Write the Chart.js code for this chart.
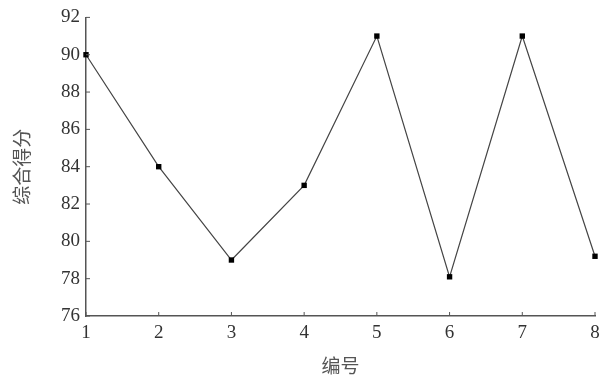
<!DOCTYPE html>
<html>
<head>
<meta charset="utf-8">
<script src="https://cdn.jsdelivr.net/npm/chart.js@4"></script>
<style>
  html, body { margin: 0; padding: 0; background: #fff; }
  #wrap { width: 599px; height: 377px; }
</style>
</head>
<body>
<div id="wrap"><canvas id="chart" width="599" height="377"></canvas></div>
<script>
// Chart data
const numbers = ['1', '2', '3', '4', '5', '6', '7', '8'];
const scores = [90, 84, 79, 83, 91, 78.1, 91, 79.2];
const yTicks = [76, 78, 80, 82, 84, 86, 88, 90, 92];

const axisColor = '#555';
const textColor = '#333';

// Draw short inward tick marks on both axes
const innerTicks = {
    id: 'innerTicks',
    afterDraw(chart) {
        const ctx = chart.ctx;
        const x = chart.scales.x;
        const y = chart.scales.y;
        ctx.save();
        ctx.strokeStyle = axisColor;
        ctx.lineWidth = 1;
        ctx.beginPath();
        y.ticks.forEach((t, i) => {
            const py = y.getPixelForTick(i);
            ctx.moveTo(x.left, py);
            ctx.lineTo(x.left + 4, py);
        });
        x.ticks.forEach((t, i) => {
            const px = x.getPixelForTick(i);
            ctx.moveTo(px, y.bottom);
            ctx.lineTo(px, y.bottom - 4);
        });
        ctx.stroke();
        ctx.restore();
    }
};

const ctx = document.getElementById('chart').getContext('2d');
const chart = new Chart(ctx, {
    type: 'line',
    data: {
        labels: numbers,
        datasets: [{
            data: scores,
            borderColor: '#444',
            borderWidth: 1.2,
            pointStyle: 'rect',
            pointRadius: 3.8,
            pointBackgroundColor: '#000',
            pointBorderColor: '#000',
            pointBorderWidth: 0,
            tension: 0,
            clip: false
        }]
    },
    options: {
        responsive: false,
        animation: false,
        events: [],
        layout: { padding: { top: 17, right: 4, left: 0, bottom: 0 } },
        plugins: {
            legend: { display: false },
            tooltip: { enabled: false }
        },
        scales: {
            x: {
                offset: false,
                grid: { display: false, drawTicks: false },
                border: { display: true, color: axisColor, width: 1.5 },
                ticks: {
                    padding: 6,
                    color: textColor,
                    maxRotation: 0,
                    font: { family: '"Liberation Serif", serif', size: 19 }
                },
                title: {
                    display: true,
                    text: '编号',
                    color: '#555',
                    padding: { top: 0, bottom: 0 },
                    font: { family: '"Noto Sans CJK SC", sans-serif', size: 19 }
                },
                afterFit(scale) {
                    scale.height = 61;
                    scale.paddingLeft = 0;
                    scale.paddingRight = 0;
                }
            },
            y: {
                min: 76,
                max: 92,
                afterBuildTicks(scale) {
                    scale.ticks = yTicks.map(v => ({ value: v }));
                },
                grid: { display: false, drawTicks: false },
                border: { display: true, color: axisColor, width: 1.5 },
                ticks: {
                    padding: 6,
                    color: textColor,
                    font: { family: '"Liberation Serif", serif', size: 19 }
                },
                title: {
                    display: true,
                    text: '综合得分',
                    color: '#555',
                    padding: { top: 10, bottom: 0 },
                    font: { family: '"Noto Sans CJK SC", sans-serif', size: 19 }
                },
                afterFit(scale) { scale.width = 86; }
            }
        }
    },
    plugins: [innerTicks]
});
</script>
</body>
</html>
